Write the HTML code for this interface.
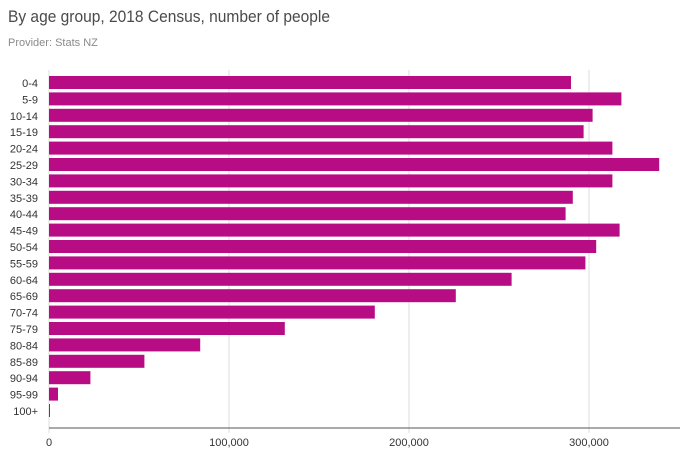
<!DOCTYPE html>
<html><head><meta charset="utf-8"><style>
body{margin:0;background:#fff;font-family:"Liberation Sans",sans-serif;}
</style></head><body>
<svg width="682" height="461" xmlns="http://www.w3.org/2000/svg">
<text x="8" y="22" font-size="17" fill="#4a4a4a" textLength="322" lengthAdjust="spacingAndGlyphs">By age group, 2018 Census, number of people</text>
<text x="8" y="46" font-size="11" fill="#8a8a8a">Provider: Stats NZ</text>
<g id="plot"></g>
</svg>
<script>
const categories=["0-4","5-9","10-14","15-19","20-24","25-29","30-34","35-39","40-44","45-49","50-54","55-59","60-64","65-69","70-74","75-79","80-84","85-89","90-94","95-99","100+"];
const values=[290000,318000,302000,297000,313000,339000,313000,291000,287000,317000,304000,298000,257000,226000,181000,131000,84000,53000,23000,5000,500];
const ticks=[0,100000,200000,300000];
const tickLabels=["0","100,000","200,000","300,000"];
const ns="http://www.w3.org/2000/svg";
const g=document.getElementById("plot");
const x=v=>49+v*0.0018;
const y=i=>76+i*16.4;
function mk(t,a){const e=document.createElementNS(ns,t);for(const k in a)e.setAttribute(k,a[k]);g.appendChild(e);return e;}
ticks.forEach((t,i)=>{
 const l=mk("line",{x1:x(t),x2:x(t),y1:70,y2:433,stroke:"#dcdcdc","stroke-width":1});
 
 
 const tx=mk("text",{x:x(t),y:446,"text-anchor":"middle","font-size":11,fill:"#333"});
 tx.textContent=tickLabels[i];
 
 
});
categories.forEach((c,i)=>{
 const r=mk("rect",{x:x(0),y:y(i),width:Math.max(1,x(values[i])-x(0)),height:13,fill:"#b80c85"});
 
 
 const t=mk("text",{x:38,y:y(i)+11,"text-anchor":"end","font-size":11,fill:"#333"});
 t.textContent=c;
 
 
});
const ax=mk("line",{x1:49,x2:680,y1:428,y2:428,stroke:"#555","stroke-width":1});


</script>
</body></html>
